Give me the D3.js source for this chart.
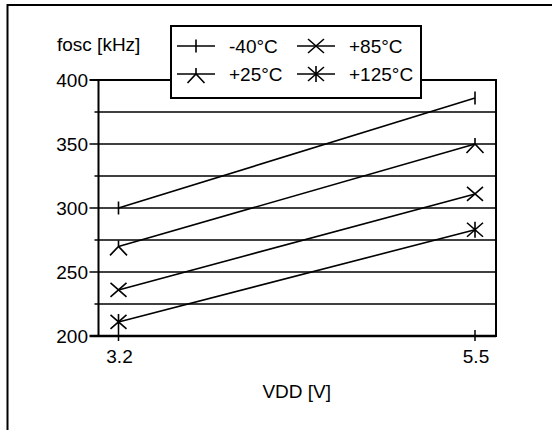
<!DOCTYPE html>
<html>
<head>
<meta charset="utf-8">
<script src="https://cdn.jsdelivr.net/npm/d3@7"></script>
<style>
  body { margin: 0; background: #fff; }
  svg { display: block; font-family: "Liberation Sans", Arial, sans-serif; }
</style>
</head>
<body>
<svg id="chart" width="552" height="430"></svg>
<script>
// data
var vdd = [3.2, 5.5];
var seriesNames = ["-40°C", "+25°C", "+85°C", "+125°C"];
var seriesValues = [
  [300, 386],
  [270, 350],
  [236, 311],
  [211, 283]
];
var seriesMarkers = ["tick", "lambda", "cross", "star"];
var yMajor = [200, 250, 300, 350, 400];
var yMinor = [225, 275, 325, 375];

var svg = d3.select("#chart");

// scales
var x = d3.scaleLinear().domain([3.2, 5.5]).range([118.5, 475]);
var y = d3.scaleLinear().domain([200, 400]).range([336, 80]);
var plotLeft = 98.5, plotRight = 496;

// outer frame (top + left only)
svg.append("path")
  .attr("d", "M7.5,430 V5 H552")
  .attr("fill", "none").attr("stroke", "#000").attr("stroke-width", 2);

// gridlines
svg.append("g").selectAll("line").data(yMinor).enter().append("line")
  .attr("x1", plotLeft - 4).attr("x2", plotRight)
  .attr("y1", d => y(d)).attr("y2", d => y(d))
  .attr("stroke", "#000").attr("stroke-width", 1.4);

svg.append("g").selectAll("line").data(yMajor).enter().append("line")
  .attr("x1", plotLeft - 9).attr("x2", plotRight)
  .attr("y1", d => y(d)).attr("y2", d => y(d))
  .attr("stroke", "#000").attr("stroke-width", d => d === 200 ? 2.6 : (d === 400 ? 2 : 1.4));

// y labels
svg.append("g").selectAll("text").data(yMajor).enter().append("text")
  .attr("x", 88).attr("y", d => y(d) + 7)
  .attr("text-anchor", "end").attr("font-size", 19)
  .text(d => d);

// left axis and right border
svg.append("line").attr("x1", plotLeft).attr("x2", plotLeft)
  .attr("y1", y(400)).attr("y2", y(200) + 1)
  .attr("stroke", "#000").attr("stroke-width", 2);
svg.append("line").attr("x1", plotRight).attr("x2", plotRight)
  .attr("y1", y(400) - 1).attr("y2", y(200) + 1)
  .attr("stroke", "#000").attr("stroke-width", 2);

// x ticks
svg.append("g").selectAll("line").data(vdd).enter().append("line")
  .attr("x1", d => x(d)).attr("x2", d => x(d))
  .attr("y1", y(200) - 6).attr("y2", y(200) + 5)
  .attr("stroke", "#000").attr("stroke-width", 1.5);
svg.append("g").selectAll("text").data(vdd).enter().append("text")
  .attr("x", d => x(d) + 1).attr("y", 363)
  .attr("text-anchor", "middle").attr("font-size", 19)
  .text(d => d.toFixed(1));

// axis titles
svg.append("text").attr("x", 57).attr("y", 51).attr("font-size", 19).text("fosc [kHz]");
svg.append("text").attr("x", (x(3.2) + x(5.5)) / 2).attr("y", 398)
  .attr("text-anchor", "middle").attr("font-size", 19).text("VDD [V]");

// marker shapes
function markerPath(type) {
  switch (type) {
    case "tick": return "M0,-6.5 V6.5";
    case "lambda": return "M0,-6 V0 M-8.5,9 L0,0 L8.5,9";
    case "cross": return "M-8,-7 L8,7 M-8,7 L8,-7";
    case "star": return "M-8,-7 L8,7 M-8,7 L8,-7 M0,-8 V8";
  }
}

// series lines and markers
var line = d3.line().x((d, i) => x(vdd[i])).y(d => y(d));
var gSeries = svg.append("g");
seriesValues.forEach(function(vals, s) {
  gSeries.append("path").attr("d", line(vals))
    .attr("fill", "none").attr("stroke", "#000").attr("stroke-width", 1.6);
  gSeries.selectAll(null).data(vals).enter().append("path")
    .attr("transform", (d, i) => "translate(" + x(vdd[i]) + "," + y(d) + ")")
    .attr("d", markerPath(seriesMarkers[s]))
    .attr("fill", "none").attr("stroke", "#000").attr("stroke-width", 1.6);
});

// legend
var legend = svg.append("g");
legend.append("rect").attr("x", 171).attr("y", 26).attr("width", 250).attr("height", 72)
  .attr("fill", "#fff").attr("stroke", "#000").attr("stroke-width", 2);
var legendPos = [[177, 46], [177, 74], [297, 46], [297, 74]];
seriesNames.forEach(function(name, s) {
  var p = legendPos[s];
  legend.append("line").attr("x1", p[0]).attr("x2", p[0] + 38)
    .attr("y1", p[1]).attr("y2", p[1])
    .attr("stroke", "#000").attr("stroke-width", 1.6);
  legend.append("path").attr("transform", "translate(" + (p[0] + 19) + "," + p[1] + ")")
    .attr("d", markerPath(seriesMarkers[s]))
    .attr("fill", "none").attr("stroke", "#000").attr("stroke-width", 1.6);
  legend.append("text").attr("x", p[0] + 52).attr("y", p[1] + 7)
    .attr("font-size", 19).text(name);
});
</script>
</body>
</html>
